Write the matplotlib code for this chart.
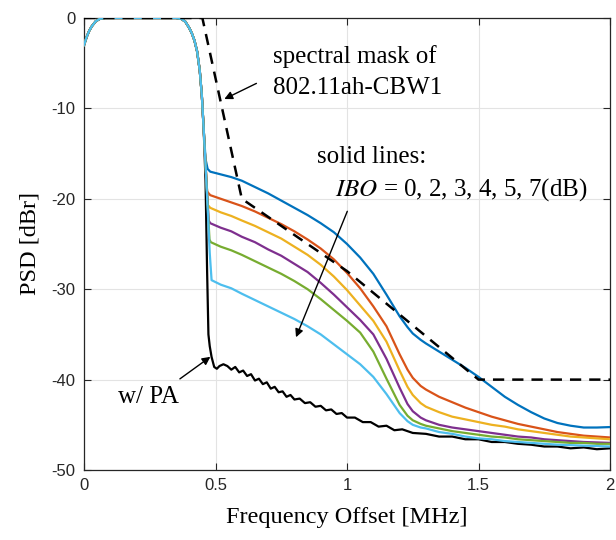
import matplotlib
matplotlib.use("Agg")
import matplotlib.pyplot as plt

# ---- data ----
pass_f = [0, 0.01, 0.02, 0.03, 0.045, 0.06, 0.08, 0.35, 0.37, 0.385, 0.40, 0.41, 0.42, 0.43, 0.44, 0.448, 0.455]
pass_db = [-3.0, -2.1, -1.4, -0.9, -0.35, -0.1, 0.0, 0.0, -0.1, -0.4, -1.1, -1.7, -2.5, -3.7, -5.8, -8.6, -12.3]

grid_f = [0.52, 0.56, 0.60, 0.65, 0.70, 0.75, 0.80, 0.85, 0.90, 0.95, 1.00, 1.05, 1.10, 1.15, 1.20, 1.23, 1.25,
          1.28, 1.30, 1.35, 1.40, 1.45, 1.50, 1.55, 1.60, 1.65, 1.70, 1.75, 1.80, 1.85, 1.90, 1.95, 2.00]

blue_knee_f = [0.462, 0.47, 0.48]
blue_knee_db = [-15.6, -16.7, -17.0]
blue_db = [-17.3, -17.6, -18.0, -18.7, -19.4, -20.2, -21.0, -21.8, -22.7, -23.7, -25.0, -26.5, -28.3, -30.6, -33.0, -34.2, -34.9,
           -35.6, -36.0, -36.9, -37.8, -38.7, -39.7, -40.8, -41.9, -42.8, -43.6, -44.3, -44.8, -45.1, -45.3, -45.3, -45.25]

orange_knee_f = [0.462, 0.468, 0.48]
orange_knee_db = [-16.2, -19.2, -19.6]
orange_db = [-20.0, -20.4, -20.8, -21.4, -22.1, -22.8, -23.6, -24.5, -25.5, -26.7, -28.2, -29.9, -31.9, -34.1, -37.2, -38.9, -39.8,
             -40.7, -41.1, -41.9, -42.5, -43.1, -43.6, -44.1, -44.5, -44.9, -45.2, -45.5, -45.8, -46.0, -46.2, -46.3, -46.4]

yellow_knee_f = [0.462, 0.471, 0.48]
yellow_knee_db = [-16.2, -20.7, -21.0]
yellow_db = [-21.5, -21.9, -22.4, -23.0, -23.7, -24.4, -25.3, -26.2, -27.3, -28.6, -30.1, -31.8, -33.5, -35.8, -39.0, -40.8, -41.7,
             -42.6, -43.0, -43.6, -44.1, -44.4, -44.7, -45.0, -45.2, -45.5, -45.7, -45.9, -46.1, -46.3, -46.4, -46.5, -46.6]

purple_knee_f = [0.462, 0.474, 0.48]
purple_knee_db = [-16.2, -22.4, -22.7]
purple_db = [-23.2, -23.6, -24.2, -24.8, -25.6, -26.3, -27.2, -28.1, -29.3, -30.6, -32.0, -33.4, -35.0, -37.7, -40.9, -42.7, -43.5,
             -44.2, -44.5, -45.0, -45.3, -45.5, -45.7, -45.9, -46.1, -46.3, -46.4, -46.6, -46.7, -46.8, -46.9, -46.95, -47.0]

green_knee_f = [0.462, 0.477, 0.482]
green_knee_db = [-16.2, -24.5, -24.8]
green_db = [-25.3, -25.7, -26.2, -26.9, -27.6, -28.3, -29.1, -30.0, -31.1, -32.3, -33.5, -34.8, -36.9, -39.9, -42.8, -44.0, -44.5,
            -44.9, -45.1, -45.4, -45.7, -45.9, -46.1, -46.3, -46.4, -46.6, -46.7, -46.8, -46.9, -47.0, -47.0, -47.1, -47.1]

ltblue_knee_f = [0.462, 0.470, 0.478, 0.485]
ltblue_knee_db = [-16.2, -21.0, -26.0, -29.0]
ltblue_db = [-29.5, -29.9, -30.5, -31.2, -31.9, -32.6, -33.3, -34.1, -35.0, -36.1, -37.2, -38.3, -39.7, -41.6, -43.7, -44.6, -45.0,
             -45.3, -45.4, -45.8, -46.0, -46.3, -46.5, -46.6, -46.8, -46.9, -47.0, -47.1, -47.2, -47.25, -47.3, -47.35, -47.4]

black_f = [0.462, 0.468, 0.473, 0.478, 0.485, 0.495, 0.505, 0.515, 0.53, 0.545, 0.56, 0.575, 0.59, 0.605,
           0.62, 0.635, 0.65, 0.665, 0.68, 0.695, 0.71, 0.725, 0.74, 0.755, 0.77, 0.785, 0.80, 0.82, 0.84,
           0.86, 0.88, 0.90, 0.92, 0.94, 0.96, 0.98, 1.00, 1.03, 1.06, 1.09, 1.12, 1.15, 1.18, 1.21, 1.25,
           1.30, 1.35, 1.40, 1.45, 1.50, 1.55, 1.60, 1.65, 1.70, 1.75, 1.80, 1.85, 1.90, 1.95, 2.0]
black_db = [-18.0, -28.0, -35.0, -36.3, -37.5, -38.6, -38.8, -38.5, -38.3, -38.5, -38.9, -38.6, -39.2, -39.0,
            -39.6, -39.4, -40.1, -39.9, -40.5, -40.3, -41.0, -40.8, -41.4, -41.3, -41.9, -41.7, -42.2, -42.1,
            -42.6, -42.5, -43.0, -42.9, -43.4, -43.3, -43.8, -43.7, -44.2, -44.2, -44.7, -44.7, -45.2, -45.1,
            -45.6, -45.5, -45.9, -46.0, -46.3, -46.3, -46.6, -46.6, -46.9, -46.9, -47.1, -47.2, -47.4, -47.4,
            -47.6, -47.5, -47.7, -47.6]

mask_f = [0, 0.45, 0.6, 1.0, 1.5, 2.0]
mask_db = [0, 0, -20, -28, -40, -40]

x_ticks = [0, 0.5, 1, 1.5, 2]
x_ticklabels = ['0', '0.5', '1', '1.5', '2']
y_ticks = [-50, -40, -30, -20, -10, 0]
y_ticklabels = ['-50', '-40', '-30', '-20', '-10', '0']

# ---- style ----
plt.rcParams['font.family'] = ['Liberation Serif', 'DejaVu Serif']
plt.rcParams['mathtext.fontset'] = 'stix'

fig = plt.figure(figsize=(6.16, 5.40), dpi=100)
ax = fig.add_axes([0.1364, 0.1296, 0.8539, 0.8371])

ax.plot(list(pass_f) + black_f, list(pass_db) + black_db, color='#000000', lw=1.6,
        solid_joinstyle='round', zorder=3)

series = [
    (blue_knee_f, blue_knee_db, blue_db, '#0072BD'),
    (orange_knee_f, orange_knee_db, orange_db, '#D95319'),
    (yellow_knee_f, yellow_knee_db, yellow_db, '#EDB120'),
    (purple_knee_f, purple_knee_db, purple_db, '#7E2F8E'),
    (green_knee_f, green_knee_db, green_db, '#77AC30'),
    (ltblue_knee_f, ltblue_knee_db, ltblue_db, '#4DBEEE'),
]
for kf, kd, d, c in series:
    ax.plot(list(pass_f) + kf + grid_f, list(pass_db) + kd + d, color=c, lw=1.6,
            solid_joinstyle='round', zorder=3)

ax.plot(mask_f, mask_db, color='k', lw=1.8, ls=(0, (4.5, 3.2)), zorder=4)

ax.set_xlim(0, 2)
ax.set_ylim(-50, 0)
ax.set_xticks(x_ticks)
ax.set_xticklabels(x_ticklabels, family='Liberation Sans', fontsize=12, color='#262626')
ax.set_yticks(y_ticks)
ax.set_yticklabels(y_ticklabels, family='Liberation Sans', fontsize=12, color='#262626')
ax.tick_params(direction='in', length=5, width=0.8, top=True, right=True, colors='#262626',
               labelcolor='#262626', pad=6)
ax.grid(True, color='#e3e3e3', lw=0.8, zorder=0)
for s in ax.spines.values():
    s.set_color('#262626')
    s.set_linewidth(0.9)

ax.set_xlabel('Frequency Offset [MHz]', fontsize=17.5, labelpad=10)
ax.set_ylabel('PSD [dBr]', fontsize=17.5, labelpad=8)

ann_fs = 18
ax.text(0.719, -4.3, 'spectral mask of', fontsize=ann_fs, ha='left', va='center', zorder=5)
ax.text(0.719, -7.8, '802.11ah-CBW1', fontsize=ann_fs, ha='left', va='center', zorder=5)
ax.annotate('', xy=(0.524, -9.1), xytext=(0.665, -7.1),
            arrowprops=dict(arrowstyle='-|>', color='k', lw=1.0, mutation_scale=12), zorder=5)

ax.text(0.886, -15.4, 'solid lines:', fontsize=ann_fs, ha='left', va='center', zorder=5)
ax.text(0.954, -19.0, r'$IBO$ = 0, 2, 3, 4, 5, 7(dB)', fontsize=ann_fs, ha='left', va='center', zorder=5)
ax.annotate('', xy=(0.802, -35.6), xytext=(1.005, -21.1),
            arrowprops=dict(arrowstyle='-|>', color='k', lw=1.0, mutation_scale=12), zorder=5)

ax.text(0.130, -41.9, 'w/ PA', fontsize=ann_fs, ha='left', va='center', zorder=5)
ax.annotate('', xy=(0.489, -37.3), xytext=(0.356, -40.1),
            arrowprops=dict(arrowstyle='-|>', color='k', lw=1.0, mutation_scale=12), zorder=5)

fig.savefig('out.png', dpi=100)
